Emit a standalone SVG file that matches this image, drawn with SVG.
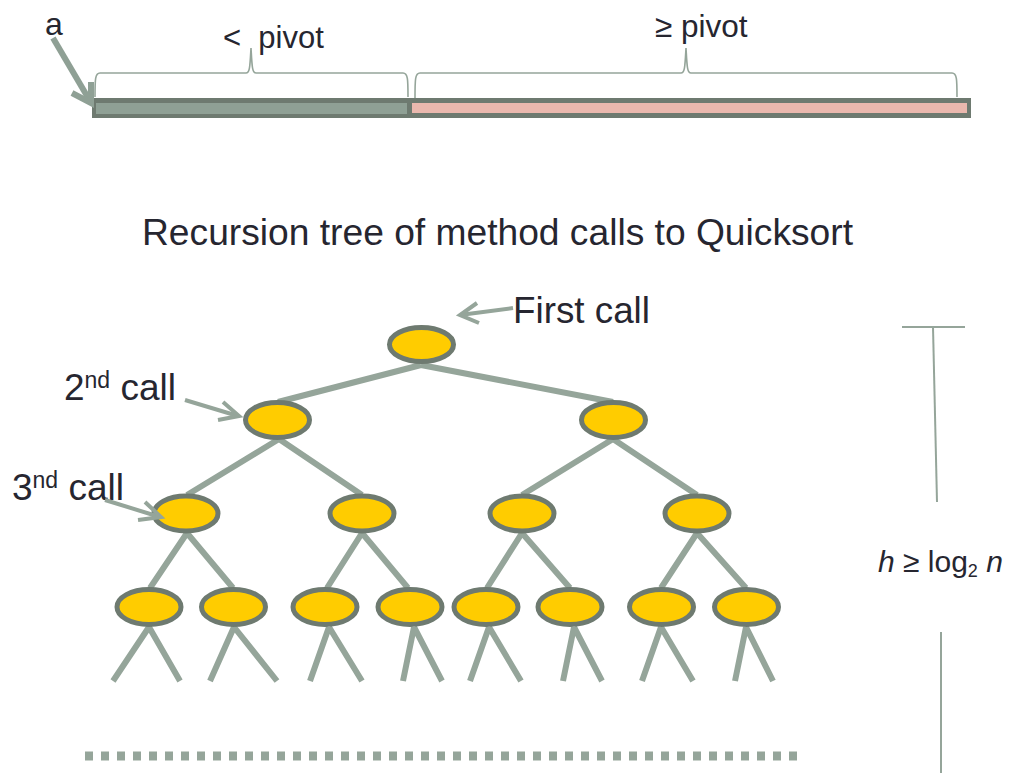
<svg xmlns="http://www.w3.org/2000/svg" width="1009" height="773" viewBox="0 0 1009 773">
<style>
.t{font-family:"Liberation Sans",Arial,sans-serif;fill:#262630}
.e{stroke:#95a59a;stroke-width:6;fill:none}
.n{fill:#ffcc00;stroke:#6e7a70;stroke-width:5}
.ar{stroke:#95a59a;stroke-width:4;fill:none;stroke-linecap:butt}
.br{stroke:#95a59a;stroke-width:1.6;fill:none}
.hl{stroke:#95a59a;stroke-width:2;fill:none}
</style>
<rect width="1009" height="773" fill="#ffffff"/>
<g id="array">
<rect x="92" y="98" width="879" height="20" fill="#6e7a70"/>
<rect x="96" y="103" width="311" height="11" fill="#8fa095"/>
<rect x="412" y="103" width="555" height="10" fill="#eab8ae"/>
<path class="br" d="M95,97 C95,80 95,73 100,73 L246,73 C250,73 250,65 251,48 C252,65 252,73 256,73 L403,73 C408,73 408,80 408,97"/>
<path class="br" d="M415,98 C415,80 415,73 420,73 L681,73 C685,73 685,65 686,48 C687,65 687,73 691,73 L952,73 C957,73 957,80 957,97"/>
<text class="t" x="45" y="35" font-size="32">a</text>
<text class="t" x="223" y="48" font-size="31" xml:space="preserve">&lt;  pivot</text>
<text class="t" x="655" y="37" font-size="31.5">≥ pivot</text>
<g class="ar" style="stroke-width:6;stroke:#8fa095">
<line x1="53" y1="38" x2="90" y2="101"/>
<polyline points="72,93 91,103 91,82"/>
</g>
</g>
<text class="t" x="497.5" y="245" font-size="37.2" text-anchor="middle">Recursion tree of method calls to Quicksort</text>
<g id="connectors">
<path class="e" d="M421,365 L278,402 M421,365 L613,402"/>
<path class="e" d="M279,439 L187,495 M279,439 L362,495 M613,439 L522,495 M613,439 L697,495"/>
<path class="e" d="M187,533 L150,588 M187,533 L233,588 M362,533 L327,588 M362,533 L408,588 M522,533 L487,588 M522,533 L570,588 M697,533 L661,588 M697,533 L746,588"/>
<path class="e" d="M149,627 L113,681 M149,627 L180,681 M234,627 L210,681 M234,627 L277,681 M329,627 L310,681 M329,627 L362,681 M414,627 L403,681 M414,627 L442,681 M489,627 L470,681 M489,627 L521,681 M574,627 L563,681 M574,627 L602,681 M661,627 L642,681 M661,627 L693,681 M746,627 L735,681 M746,627 L773,681"/>
<line x1="85" y1="756" x2="800" y2="756" stroke="#95a59a" stroke-width="9" stroke-dasharray="8 8"/>
</g>
<g id="root"><ellipse class="n" cx="421.5" cy="344.5" rx="32" ry="17"/></g>
<g id="n2a"><ellipse class="n" cx="277.5" cy="420" rx="32" ry="17.5"/></g>
<g id="n2b"><ellipse class="n" cx="613.5" cy="420" rx="32" ry="17.5"/></g>
<g id="n3a"><ellipse class="n" cx="186" cy="513.5" rx="32" ry="17.5"/></g>
<g id="n3b"><ellipse class="n" cx="362" cy="513.5" rx="32" ry="17.5"/></g>
<g id="n3c"><ellipse class="n" cx="522" cy="513.5" rx="32" ry="17.5"/></g>
<g id="n3d"><ellipse class="n" cx="697" cy="513.5" rx="32" ry="17.5"/></g>
<g id="n4a"><ellipse class="n" cx="149" cy="607" rx="32" ry="17.5"/></g>
<g id="n4b"><ellipse class="n" cx="233.5" cy="607" rx="32" ry="17.5"/></g>
<g id="n4c"><ellipse class="n" cx="325" cy="607" rx="32" ry="17.5"/></g>
<g id="n4d"><ellipse class="n" cx="410" cy="607" rx="32" ry="17.5"/></g>
<g id="n4e"><ellipse class="n" cx="486" cy="607" rx="32" ry="17.5"/></g>
<g id="n4f"><ellipse class="n" cx="570" cy="607" rx="32" ry="17.5"/></g>
<g id="n4g"><ellipse class="n" cx="661.5" cy="607" rx="32" ry="17.5"/></g>
<g id="n4h"><ellipse class="n" cx="746.5" cy="607" rx="32" ry="17.5"/></g>
<g id="label-first">
<text class="t" x="513" y="323" font-size="36.8">First call</text>
<line class="ar" x1="513" y1="308" x2="460" y2="315"/>
<polyline class="ar" points="477,303 460,315 479,323"/>
</g>
<g id="label-2nd">
<text class="t" x="64" y="400" font-size="37">2<tspan font-size="23" dy="-12">nd</tspan><tspan dy="12"> call</tspan></text>
<line class="ar" x1="185" y1="400" x2="238" y2="416"/>
<polyline class="ar" points="223,402 239,416 218,420"/>
</g>
<g id="label-3rd">
<text class="t" x="12" y="500" font-size="37">3<tspan font-size="23" dy="-12">nd</tspan><tspan dy="12"> call</tspan></text>
<line class="ar" x1="105" y1="500" x2="160" y2="517"/>
<polyline class="ar" points="145,502 161,517 138,520"/>
</g>
<g id="height">
<line class="hl" x1="902" y1="327" x2="965" y2="327"/>
<line class="hl" x1="933" y1="327" x2="937" y2="502"/>
<line class="hl" x1="941" y1="632" x2="941" y2="773"/>
<text class="t" x="878" y="572" font-size="30"><tspan font-style="italic">h</tspan> ≥ log<tspan font-size="18" dy="5">2</tspan><tspan dy="-5"> </tspan><tspan font-style="italic">n</tspan></text>
</g>
</svg>
